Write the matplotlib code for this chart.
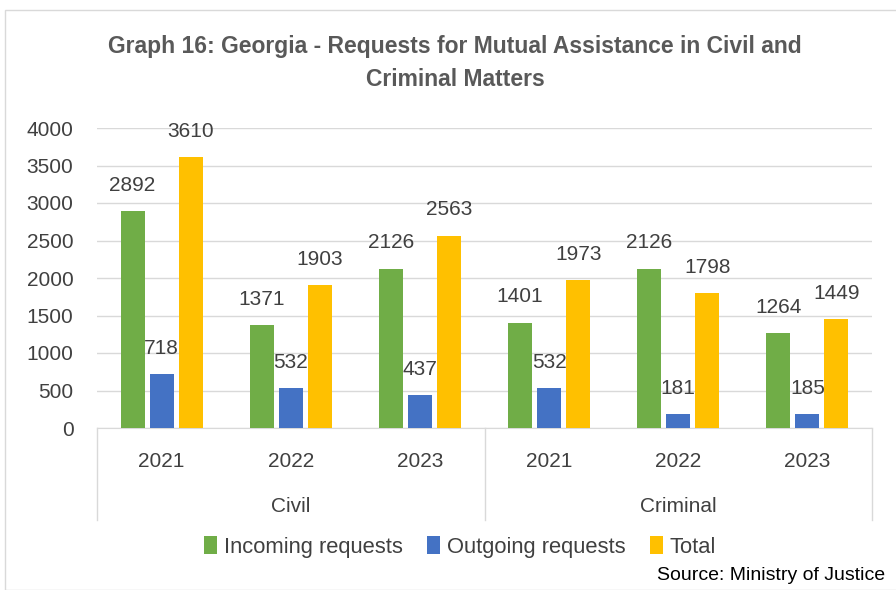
import matplotlib
matplotlib.use('Agg')
import matplotlib.pyplot as plt
import matplotlib.transforms as mtransforms
from matplotlib.patches import Rectangle
import numpy as np

plt.rcParams['font.family'] = ['Liberation Sans', 'DejaVu Sans']

# data
groups = ['Civil', 'Criminal']
years = ['2021', '2022', '2023', '2021', '2022', '2023']
incoming = [2892, 1371, 2126, 1401, 2126, 1264]
outgoing = [718, 532, 437, 532, 181, 185]
total = [3610, 1903, 2563, 1973, 1798, 1449]
series_names = ['Incoming requests', 'Outgoing requests', 'Total']
colors = ['#70AD47', '#4472C4', '#FFC000']
text_col = '#404040'
grid_col = '#D9D9D9'

W, H = 896, 590
fig = plt.figure(figsize=(W / 100, H / 100), dpi=100)

# chart border
fig.patches.append(Rectangle((5 / W, 0), 1.0, 1 - 10 / H, transform=fig.transFigure,
                             fill=False, edgecolor=grid_col, lw=1))

ax = fig.add_axes([97 / W, 1 - 428 / H, 775 / W, 300 / H])
x = np.arange(len(years))
bw = 0.186
step = 0.225
for i, (vals, c) in enumerate(zip([incoming, outgoing, total], colors)):
    pos = x + (i - 1) * step
    ax.bar(pos, vals, width=bw, color=c, label=series_names[i], zorder=3)
    for p, v in zip(pos, vals):
        ax.annotate(str(v), (p, v), xytext=(0, 26), textcoords='offset pixels',
                    ha='center', va='center', fontsize=15, color=text_col, zorder=6)

ax.set_xlim(-0.5, len(years) - 0.5)
ax.set_ylim(0, 4000)
ax.set_yticks(range(0, 4001, 500))
ax.yaxis.grid(True, color=grid_col, lw=1, zorder=0)
for s in ['top', 'right', 'left']:
    ax.spines[s].set_visible(False)
ax.spines['bottom'].set_color(grid_col)
ax.tick_params(axis='y', length=0, pad=17, labelsize=15, labelcolor=text_col)
ax.set_xticks(x)
ax.set_xticklabels(years)
ax.tick_params(axis='x', length=0, pad=17, labelsize=15, labelcolor=text_col)

# group separators and labels
tr = mtransforms.blended_transform_factory(ax.transData, ax.transAxes)
for xs in [-0.5, 2.5, 5.5]:
    ax.plot([xs, xs], [0, -92 / 300], transform=tr, color=grid_col, lw=1, clip_on=False)
for gi, g in enumerate(groups):
    ax.text(gi * 3 + 1, -78 / 300, g, transform=tr, ha='center', va='center',
            fontsize=15, color=text_col)

fig.text(455 / W, 1 - 47 / H, 'Graph 16: Georgia - Requests for Mutual Assistance in Civil and',
         ha='center', va='center', fontsize=16.5, fontweight='bold', color='#595959')
fig.text(455 / W, 1 - 80 / H, 'Criminal Matters',
         ha='center', va='center', fontsize=16.5, fontweight='bold', color='#595959')

handles, labels = ax.get_legend_handles_labels()
fig.legend(handles, labels, loc='center', bbox_to_anchor=(460 / W, 1 - 547 / H), ncol=3,
           frameon=False, fontsize=15.8, handlelength=0.6, handleheight=0.9,
           handletextpad=0.3, columnspacing=1.1, labelcolor=text_col)

fig.text(885 / W, 1 - 575 / H, 'Source: Ministry of Justice', ha='right', va='center',
         fontsize=14, color='black')

fig.savefig('out.png', dpi=100)
